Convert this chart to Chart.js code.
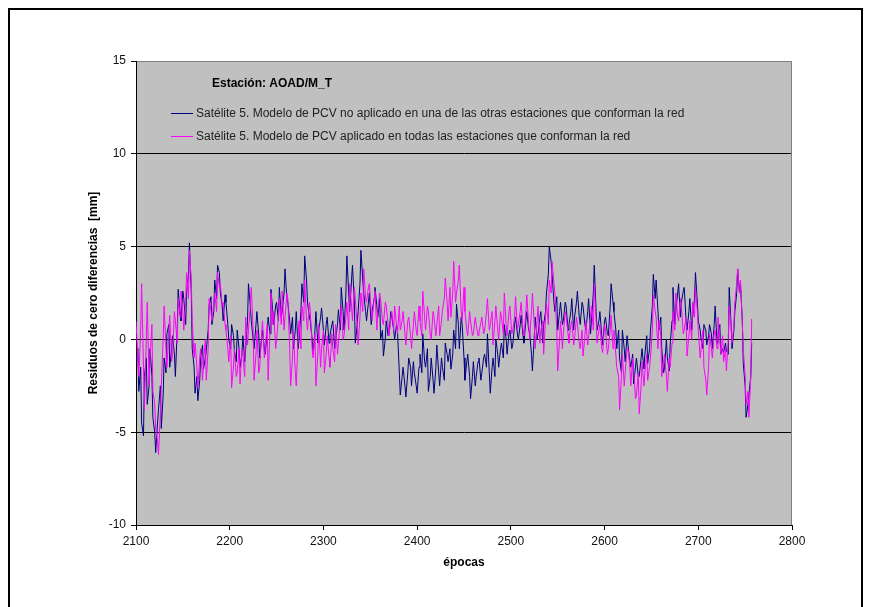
<!DOCTYPE html>
<html><head><meta charset="utf-8">
<script src="https://cdn.jsdelivr.net/npm/chart.js@4.4.1/dist/chart.umd.min.js"></script>
<style>
html,body{margin:0;padding:0;background:#fff;overflow:hidden}
#wrap{position:relative;width:870px;height:607px}
#frame{position:absolute;left:8px;top:8px;width:855px;height:610px;border:2px solid #000;box-sizing:border-box;pointer-events:none}
canvas{position:absolute;left:0;top:0}
</style></head><body>
<div id="wrap"><canvas id="c" width="870" height="607"></canvas><div id="frame"></div></div>
<script>
const epochs = [2100,2103,2106,2109,2112,2115,2118,2121,2124,2127,2130,2133,2136,2139,2142,2145,2148,2151,2154,2157,2160,2163,2166,2169,2172,2175,2178,2181,2184,2187,2190,2193,2196,2199,2202,2205,2208,
2211,2214,2217,2220,2223,2226,2229,2232,2235,2238,2241,2244,2247,2250,2253,2256,2259,2262,2265,2268,2271,2274,2277,2280,2283,2286,2289,2292,2295,2298,2301,2304,2307,2310,2313,2316,2319,2322,
2325,2328,2331,2334,2337,2340,2343,2346,2349,2352,2355,2358,2361,2364,2367,2370,2373,2376,2379,2382,2385,2388,2391,2394,2397,2400,2403,2406,2409,2412,2415,2418,2421,2424,2427,2430,2433,
2436,2439,2442,2445,2448,2451,2454,2457,2460,2463,2466,2469,2472,2475,2478,2481,2484,2487,2490,2493,2496,2499,2502,2505,2508,2511,2514,2517,2520,2523,2526,2529,2532,2535,2538,2541,2544,
2547,2550,2553,2556,2559,2562,2565,2568,2571,2574,2577,2580,2583,2586,2589,2592,2595,2598,2601,2604,2607,2610,2613,2616,2619,2622,2625,2628,2631,2634,2637,2640,2643,2646,2649,2652,
2655,2658,2661,2664,2667,2670,2673,2676,2679,2682,2685,2688,2691,2694,2697,2700,2703,2706,2709,2712,2715,2718,2721,2724,2727,2730,2733,2736,2739,2742,2745,2748,2751,2754,2757];

const navySeries = [-1.2,-2.8,-4.5,-2.0,-3.5,-0.5,-4.2,-6.1,-3.8,-4.8,-1.0,0.3,-1.5,0.2,-2.0,2.7,1.0,2.2,2.5,5.2,-0.5,-2.9,-3.3,-1.0,-1.6,-0.6,1.8,0.8,3.2,4.0,2.5,1.0,2.0,0.0,0.8,-0.6,0.5,
-1.5,0.2,-0.5,3.0,1.0,-0.5,1.5,-1.0,0.5,-0.8,1.2,2.7,0.8,2.0,2.8,1.5,3.8,2.0,0.3,-0.5,1.5,0.0,3.0,4.5,2.0,1.0,-0.8,1.5,0.5,1.7,-0.3,1.2,0.2,1.0,0.0,1.6,2.8,0.5,
4.5,1.5,4.0,-0.2,1.5,4.8,2.5,1.0,2.5,1.5,2.8,1.2,0.0,-0.9,1.0,0.3,1.2,0.0,0.5,-3.0,-1.5,-3.1,-1.0,-2.5,-1.8,-2.9,-0.8,0.3,-1.5,-2.8,-1.0,-2.9,-0.3,-2.5,-1.5,-0.2,-1.2,
-1.6,0.5,1.9,-0.5,0.8,-2.2,-0.8,-3.2,-1.2,-2.0,-1.0,-1.8,-0.8,0.3,-2.9,-1.0,0.0,-1.5,-0.2,0.8,-0.8,0.5,-0.3,1.2,0.0,1.3,-0.2,1.5,0.4,-1.7,1.2,0.3,1.5,0.8,2.5,5.0,3.5,
1.5,0.5,2.0,1.0,1.8,0.8,2.2,1.2,2.6,0.8,1.8,0.5,2.2,1.0,4.0,0.5,1.5,-0.3,1.2,0.2,3.0,1.5,-0.5,-1.0,0.5,-1.2,-0.3,-1.5,-2.4,-1.0,-2.0,-0.5,-0.8,-1.3,0.5,3.5,
3.2,0.5,-0.5,-1.5,-1.0,-0.3,2.8,1.5,3.0,2.0,2.8,0.5,2.2,1.2,3.6,1.0,0.0,0.8,-0.3,0.8,-0.5,1.8,0.2,-0.8,-0.7,-0.6,2.8,-0.5,1.5,3.8,3.0,-1.3,-4.2,-3.0,-0.2];

const magentaSeries = [1.0,-2.0,3.0,-3.8,2.0,-1.0,-2.8,-4.8,-6.2,-2.5,1.8,-1.5,1.3,-0.8,1.0,2.2,2.6,0.5,3.6,4.8,1.0,-0.2,-2.6,-0.5,-1.2,-2.2,2.2,1.0,2.5,3.6,3.0,2.0,0.5,-1.2,-2.6,-0.5,-1.8,
-2.4,-0.8,1.2,0.5,2.8,-2.2,0.5,-1.5,1.0,-0.5,-2.2,2.5,1.5,0.0,2.2,2.6,1.2,2.2,-2.5,0.5,-2.5,1.0,1.8,3.2,0.5,1.5,-1.0,-2.5,0.8,-0.5,-1.8,0.2,-1.5,-0.5,0.8,-0.2,1.8,0.2,
2.0,3.0,1.0,2.2,-0.3,2.5,3.8,2.0,3.0,1.0,2.6,1.5,2.2,0.8,1.8,0.2,1.5,1.8,0.3,0.5,1.5,-0.3,1.2,-0.5,1.5,0.2,1.0,2.6,0.5,1.5,0.0,1.2,0.8,0.2,1.6,3.3,1.0,
1.2,4.2,2.5,4.0,1.0,1.5,0.2,1.0,0.3,0.8,0.4,1.2,0.5,2.2,0.8,-0.3,1.8,0.0,1.2,2.5,0.2,1.8,0.5,2.3,0.8,2.0,0.2,2.4,0.0,2.5,-0.5,1.8,0.5,-0.8,2.0,3.2,4.2,
2.5,-1.7,1.0,0.3,1.2,-0.2,1.0,0.0,0.8,-0.5,-0.9,1.0,0.2,1.8,3.0,-0.2,0.8,-0.7,0.5,-0.5,1.3,0.5,-1.5,-3.8,-0.8,-1.8,-0.5,-2.5,-1.5,-3.0,-4.0,-1.2,-1.8,-2.2,-1.0,2.4,
1.2,1.0,-2.0,-0.8,-2.8,-1.5,1.5,2.5,1.0,1.8,0.5,-0.9,1.0,2.0,2.8,0.5,-0.5,-1.5,-3.0,0.3,-1.0,0.5,1.2,-0.8,-1.2,-1.7,1.8,-0.2,2.0,3.8,3.2,-0.5,-3.5,-4.2,1.1];

// intermediate epochs (read between the points above)
const midEpochs = [2102,2105,2108,2111,2114,2117,2120,2123,2126,2129,2132,2135,2138,2141,2144,2147,2150,2153,2156,2159,2162,2165,2168,2171,2174,2177,2180,2183,2186,2189,2192,2195,2198,2201,2204,2207,2210,
2213,2216,2219,2222,2225,2228,2231,2234,2237,2240,2243,2246,2249,2252,2255,2258,2261,2264,2267,2270,2273,2276,2279,2282,2285,2288,2291,2294,2297,2300,2303,2306,2309,2312,2315,2318,2321,2324,
2327,2330,2333,2336,2339,2342,2345,2348,2351,2354,2357,2360,2363,2366,2369,2372,2375,2378,2381,2384,2387,2390,2393,2396,2399,2402,2405,2408,2411,2414,2417,2420,2423,2426,2429,2432,2435,
2438,2441,2444,2447,2450,2453,2456,2459,2462,2465,2468,2471,2474,2477,2480,2483,2486,2489,2492,2495,2498,2501,2504,2507,2510,2513,2516,2519,2522,2525,2528,2531,2534,2537,2540,2543,2546,
2549,2552,2555,2558,2561,2564,2567,2570,2573,2576,2579,2582,2585,2588,2591,2594,2597,2600,2603,2606,2609,2612,2615,2618,2621,2624,2627,2630,2633,2636,2639,2642,2645,2648,2651,2654,
2657,2660,2663,2666,2669,2672,2675,2678,2681,2684,2687,2690,2693,2696,2699,2702,2705,2708,2711,2714,2717,2720,2723,2726,2729,2732,2735,2738,2741,2744,2747,2750,2753,2756];

const navyMid = [-0.5,-1.5,-5.2,-1.0,-2.5,-2.0,-5.0,-4.5,-2.5,-3.0,-1.8,0.8,-0.5,-0.8,0.5,1.5,2.6,0.8,3.5,2.5,-1.5,-2.0,-2.2,-0.3,-1.0,0.5,2.3,1.5,2.2,3.6,1.8,2.4,0.8,-0.5,0.2,-1.2,-0.5,
-0.8,-1.2,1.0,1.8,0.0,0.8,0.2,0.0,-0.5,0.5,0.3,1.5,1.8,1.0,1.2,2.5,2.2,1.0,1.2,0.5,-0.5,1.5,2.0,3.2,1.2,0.0,0.5,-0.2,1.2,0.5,0.8,-0.2,0.8,-0.5,0.8,0.5,1.5,2.5,
2.5,3.2,2.0,0.8,3.0,3.2,1.5,2.0,0.8,2.2,1.8,2.2,0.5,0.0,0.2,1.5,0.5,0.8,-1.8,-2.0,-2.5,-1.8,-1.5,-1.2,-2.5,-1.5,-1.8,-1.2,-0.5,-2.0,-2.2,-1.5,-1.8,-1.0,-2.2,-0.8,-0.5,
-0.8,-0.5,0.8,1.2,-1.0,-1.2,-2.0,-2.0,-2.5,-1.2,-2.2,-1.0,-1.5,-1.8,-1.5,-2.0,-0.8,-0.5,-1.0,0.0,0.3,-0.5,0.8,0.3,0.8,0.2,1.0,0.5,-0.8,0.2,0.0,1.2,-0.2,1.5,3.5,4.2,2.0,
2.3,1.5,0.8,2.0,0.5,1.5,0.5,2.0,1.2,2.0,0.8,1.5,0.3,2.5,1.5,1.0,0.2,1.0,0.3,1.8,2.0,0.5,0.5,-1.8,-0.5,0.2,-1.2,-0.8,-1.5,-2.0,-1.0,-1.6,0.2,-0.5,1.8,2.2,
1.5,1.2,-1.8,0.0,-1.7,1.0,0.8,2.5,1.2,2.6,1.0,1.5,0.5,2.2,2.0,0.5,-0.5,0.5,0.2,0.3,0.8,-0.2,0.8,-0.5,-0.2,-0.8,0.8,0.5,2.5,2.5,1.0,-2.5,-3.5,-2.0];

const magentaMid = [-1.0,0.5,-1.5,0.0,-2.5,0.8,-3.5,-5.5,-4.0,0.0,-0.5,0.5,-1.2,1.5,-0.2,1.2,1.5,2.0,2.2,3.2,-1.0,-1.5,-1.0,-2.2,0.0,-0.5,1.5,2.0,1.5,2.8,1.8,0.8,-0.5,0.2,-1.5,-2.0,-0.5,
-0.5,-2.0,-0.3,1.8,0.5,-0.8,-1.8,0.3,-1.0,0.8,0.5,0.8,-0.5,1.2,0.8,0.5,2.5,-0.5,-1.0,-1.8,0.2,-0.5,1.0,1.0,2.0,-0.5,0.3,-0.8,-1.5,0.5,-0.8,-1.0,0.3,-1.2,-0.8,1.0,0.0,1.2,
0.5,1.8,2.8,0.8,1.2,1.5,2.2,2.8,1.5,2.2,0.5,2.5,1.0,2.0,0.8,1.2,0.5,0.8,1.8,1.0,0.3,1.0,0.2,0.8,0.5,1.8,0.2,1.2,1.8,0.3,1.5,0.2,1.8,1.0,2.2,2.0,2.8,
2.5,2.0,3.2,1.5,2.8,0.5,1.5,0.2,1.2,0.2,0.9,0.3,1.5,0.5,1.5,1.0,0.5,1.5,0.3,0.8,1.5,0.3,1.2,0.5,1.5,0.5,1.5,0.8,1.5,0.8,1.0,-0.2,1.0,1.2,0.8,2.5,3.0,
0.5,0.0,-0.5,1.5,0.3,0.8,-0.3,1.2,-0.2,0.5,0.2,-0.3,1.2,0.5,1.0,0.5,-0.5,0.8,-0.8,0.5,-0.5,-0.8,-2.0,-2.0,-2.5,-0.5,-1.5,-1.0,-3.2,-1.8,-2.5,-2.5,-0.8,-1.5,0.5,1.5,
-0.5,0.2,-1.2,-2.0,-1.0,-0.2,0.5,1.2,2.2,0.3,1.2,0.2,0.0,1.2,1.5,-1.0,0.5,-2.2,-1.5,-0.5,0.3,-0.5,0.0,0.2,-0.5,0.0,0.8,0.8,3.0,2.5,0.8,-2.0,-2.8,-2.0];

const xTickValues = [2100,2200,2300,2400,2500,2600,2700,2800];
const yTickValues = [-10,-5,0,5,10,15];
const stationTitle = 'Estación: AOAD/M_T';
const seriesLabels = [
  'Satélite 5. Modelo de PCV no aplicado en una de las otras estaciones que conforman la red',
  'Satélite 5. Modelo de PCV aplicado en todas las estaciones que conforman la red'
];
const xTitle = 'épocas';
const yTitle = 'Residuos de cero diferencias  [mm]';

const FONT = '"Liberation Sans", Arial, sans-serif';

const toPoints = (vals, mids) => epochs.map((e, i) => ({x: e, y: vals[i]}))
  .concat(midEpochs.map((e, i) => ({x: e, y: mids[i]})))
  .sort((a, b) => a.x - b.x);

const decor = {
  id: 'decor',
  beforeDraw(chart) {
    const {ctx, chartArea: a} = chart;
    ctx.save();
    ctx.fillStyle = '#c0c0c0';
    ctx.fillRect(a.left, a.top, a.right - a.left, a.bottom - a.top);
    ctx.restore();
  },
  afterDraw(chart) {
    const {ctx, chartArea: a} = chart;
    ctx.save();
    ctx.strokeStyle = '#808080';
    ctx.lineWidth = 1;
    ctx.beginPath();
    ctx.moveTo(Math.round(a.right) - 0.5, a.top);
    ctx.lineTo(Math.round(a.right) - 0.5, a.bottom);
    ctx.stroke();
    ctx.fillStyle = '#000';
    ctx.textBaseline = 'middle';
    ctx.textAlign = 'left';
    ctx.font = 'bold 12px ' + FONT;
    ctx.fillText(stationTitle, 212, 84);
    const colors = ['#000080', '#ff00ff'];
    const ys = [113.5, 136.5];
    ctx.font = '12px ' + FONT;
    for (let i = 0; i < 2; i++) {
      ctx.strokeStyle = colors[i];
      ctx.beginPath();
      ctx.moveTo(171, ys[i]);
      ctx.lineTo(193, ys[i]);
      ctx.stroke();
      ctx.fillStyle = '#222';
      ctx.fillText(seriesLabels[i], 196, ys[i]);
    }
    ctx.fillStyle = '#000';
    ctx.font = 'bold 12px ' + FONT;
    ctx.textAlign = 'center';
    ctx.fillText(xTitle, (a.left + a.right) / 2, 563);
    ctx.translate(94, (a.top + a.bottom) / 2);
    ctx.rotate(-Math.PI / 2);
    ctx.fillText(yTitle, 0, 0);
    ctx.restore();
  }
};

new Chart(document.getElementById('c'), {
  type: 'line',
  data: {
    datasets: [
      {label: seriesLabels[0], data: toPoints(navySeries, navyMid), borderColor: '#000080', borderWidth: 1, pointRadius: 0, tension: 0, order: 2},
      {label: seriesLabels[1], data: toPoints(magentaSeries, magentaMid), borderColor: '#ff00ff', borderWidth: 1, pointRadius: 0, tension: 0, order: 1}
    ]
  },
  options: {
    responsive: false,
    animation: false,
    events: [],
    layout: {padding: {left: 0, top: 61, right: 78, bottom: 0}},
    plugins: {legend: {display: false}, tooltip: {enabled: false}, title: {display: false}},
    scales: {
      x: {
        type: 'linear', min: 2100, max: 2800,
        afterFit(s) { s.height = 82; },
        afterBuildTicks(s) { s.ticks = xTickValues.map(v => ({value: v})); },
        ticks: {font: {family: FONT, size: 12}, color: '#111', padding: 4, maxRotation: 0, autoSkip: false, callback: v => String(v)},
        grid: {drawOnChartArea: false, tickLength: 5, tickColor: '#000', color: '#000'},
        border: {color: '#000', width: 1}
      },
      y: {
        type: 'linear', min: -10, max: 15,
        afterFit(s) { s.width = 136; },
        afterBuildTicks(s) { s.ticks = yTickValues.map(v => ({value: v})); },
        ticks: {font: {family: FONT, size: 12}, color: '#111', padding: 5, autoSkip: false, callback: v => String(v)},
        grid: {
          tickLength: 5, tickColor: '#000',
          color: (c) => (c.tick && c.tick.value === 15) ? '#808080' : '#000'
        },
        border: {color: '#000', width: 1}
      }
    }
  },
  plugins: [decor]
});
</script>
</body></html>
